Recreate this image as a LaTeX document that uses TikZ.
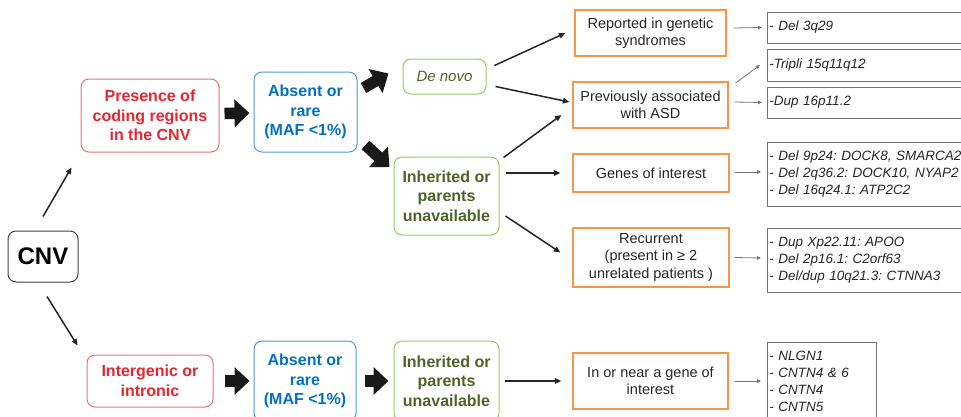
\documentclass[tikz,border=0pt]{standalone}
\usepackage{fontspec}
\setmainfont{Liberation Sans}
\usetikzlibrary{arrows.meta}
\frenchspacing

\definecolor{rouge}{RGB}{228,38,50}
\definecolor{rougeb}{RGB}{236,112,116}
\definecolor{bleu}{RGB}{0,112,192}
\definecolor{bleub}{RGB}{84,152,214}
\definecolor{vert}{RGB}{79,98,40}
\definecolor{vertb}{RGB}{150,204,96}
\definecolor{orangeb}{RGB}{247,150,70}

\begin{document}
\begin{tikzpicture}[x=1pt,y=-1pt,
    rbox/.style={draw,rounded corners=8pt,line width=1pt,align=center,inner sep=0pt,
        font=\bfseries\fontsize{16}{19.5}\selectfont},
    enrouge/.style={draw=rougeb,text=rouge},
    enbleu/.style={draw=bleub,text=bleu},
    envert/.style={draw=vertb,text=vert},
    obox/.style={draw=orangeb,line width=1.2pt,align=center,inner sep=0pt,
        text=black!85,font=\fontsize{14.5}{17.5}\selectfont},
    lbox/.style={draw=black!55,line width=0.9pt,align=left,inner xsep=2pt,anchor=west,
        text width=230,text=black!85,font=\itshape\fontsize{13.5}{17}\selectfont},
    fat/.style={line width=11.5pt,black!90,-{Triangle[length=15pt,width=27pt]}},
    thin/.style={line width=1.5pt,black!85,-{Triangle[length=6.5pt,width=5.5pt]}},
    grey/.style={line width=0.8pt,black!55,-{Triangle[length=4pt,width=3.5pt]}}]
    \useasboundingbox (0,0) rectangle (961,416);
    \clip (0,0) rectangle (961,416);

    % left column
    \node[rbox,draw=black!75,minimum width=70,minimum height=51,
        font=\bfseries\fontsize{24}{28}\selectfont] (CNV) at (43,256.5) {CNV};
    \node[rbox,enrouge,minimum width=138,minimum height=73] (P) at (150,115.5)
        {Presence of\\coding regions\\in the CNV};
    \node[rbox,enrouge,minimum width=126,minimum height=52] (G) at (150,381)
        {Intergenic or\\intronic};

    % upper branch
    \node[rbox,enbleu,minimum width=103,minimum height=80] (A1) at (305.5,112)
        {Absent or\\rare\\(MAF <1\%)};
    \node[rbox,envert,minimum width=83,minimum height=35,
        font=\itshape\fontsize{15}{18}\selectfont] (D) at (444.5,76.5) {De novo};
    \node[rbox,envert,minimum width=105,minimum height=78] (I1) at (446.5,196)
        {Inherited or\\parents\\unavailable};
    \node[obox,minimum width=151,minimum height=46] (R) at (650.5,33)
        {Reported in genetic\\syndromes};
    \node[obox,minimum width=155,minimum height=46] (S) at (650.5,105)
        {Previously associated\\with ASD};
    \node[obox,minimum width=156,minimum height=38] (N) at (651,173)
        {Genes of interest};
    \node[obox,minimum width=156,minimum height=59] (Q) at (651,257.5)
        {Recurrent\\ (present in ≥ 2\\unrelated patients )};

    % lower branch
    \node[rbox,enbleu,minimum width=102,minimum height=80] (A2) at (305,381)
        {Absent or\\rare\\(MAF <1\%)};
    \node[rbox,envert,minimum width=105,minimum height=80] (I2) at (446.5,381)
        {Inherited or\\parents\\unavailable};
    \node[obox,minimum width=155,minimum height=56] (Y) at (650.5,381)
        {In or near a gene of\\interest};

    % lists
    \node[lbox,minimum height=31] (L1) at (767,27.5) {- Del 3q29};
    \node[lbox,minimum height=32] (L2) at (767,65) {-Tripli 15q11q12};
    \node[lbox,minimum height=31] (L3) at (767,102.5) {-Dup 16p11.2};
    \node[lbox,minimum height=64] (L4) at (767,174)
        {- Del 9p24: DOCK8, SMARCA2\\- Del 2q36.2: DOCK10, NYAP2\\- Del 16q24.1: ATP2C2};
    \node[lbox,minimum height=64] (L5) at (767,260)
        {- Dup Xp22.11: APOO\\- Del 2p16.1: C2orf63\\- Del/dup 10q21.3: CTNNA3};
    \node[lbox,anchor=north west,text width=105,inner ysep=9pt] (L6) at (767,342)
        {- NLGN1\\- CNTN4 \& 6\\- CNTN4\\- CNTN5};

    % connectors
    \draw[thin] ([shift={(0,-14)}]CNV.north) -- ([shift={(-9,15)}]P.south west);
    \draw[thin] ([shift={(4,14)}]CNV.south) -- ([shift={(-9,-9)}]G.north west);
    \draw[fat] ([shift={(5,-2)}]P.east) -- ([shift={(-4,1)}]A1.west);
    \draw[fat] ([shift={(6,-24)}]A1.east) -- ([shift={(-14,-3)}]D.west);
    \draw[fat] ([shift={(8,33)}]A1.east) -- ([shift={(-4,-29)}]I1.west);
    \draw[fat] ([shift={(11,0)}]G.east) -- ([shift={(-4,0)}]A2.west);
    \draw[fat] ([shift={(8,0)}]A2.east) -- ([shift={(-5,0)}]I2.west);
    \draw[thin] ([shift={(8,-11)}]D.east) -- ([shift={(-9,0)}]R.west);
    \draw[thin] ([shift={(9,10)}]D.east) -- ([shift={(-3,-3)}]S.west);
    \draw[thin] ([shift={(4,1)}]I1.north east) -- ([shift={(-11,10)}]S.west);
    \draw[thin] ([shift={(6,-23)}]I1.east) -- ([shift={(-12,0)}]N.west);
    \draw[thin] ([shift={(6,20)}]I1.east) -- ([shift={(-12,-5)}]Q.west);
    \draw[thin] ([shift={(5,0)}]I2.east) -- ([shift={(-11,0)}]Y.west);
    \draw[grey] ([shift={(7,-5)}]R.east) -- ([shift={(-5,0)}]L1.west);
    \draw[grey] ([shift={(7,-22)}]S.east) -- ([shift={(-7,0)}]L2.west);
    \draw[grey] ([shift={(6,-3)}]S.east) -- ([shift={(-5,0)}]L3.west);
    \draw[grey] ([shift={(5,-1)}]N.east) -- ([shift={(-6,-2)}]L4.west);
    \draw[grey] ([shift={(5,0)}]Q.east) -- ([shift={(-6,-2)}]L5.west);
    \draw[grey] ([shift={(6,0)}]Y.east) -- ([shift={(-6,39)}]L6.north west);
\end{tikzpicture}
\end{document}
